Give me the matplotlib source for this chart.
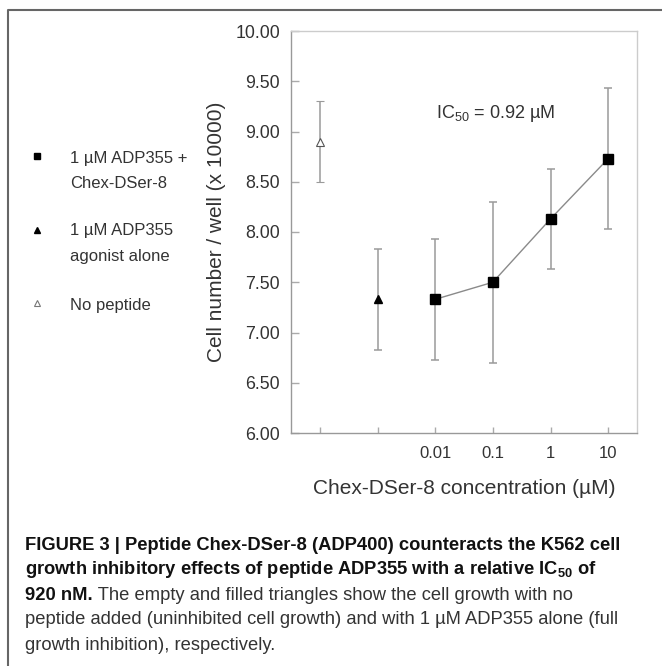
"""
Figure 3 recreation: Chex-DSer-8 counteracting ADP355 growth inhibition
"""

import matplotlib
matplotlib.use("Agg")
from matplotlib import pyplot as plt
from matplotlib.lines import Line2D

plt.rcParams["font.family"] = ["Liberation Sans", "DejaVu Sans"]
plt.rcParams["mathtext.fontset"] = "custom"
plt.rcParams["mathtext.rm"] = "Liberation Sans"
plt.rcParams["mathtext.bf"] = "Liberation Sans:bold"

# Data (cell number / well, x 10000)
conc_labels = ["", "", "0.01", "0.1", "1", "10"]
no_peptide_mean = 8.90
no_peptide_err = 0.40
agonist_mean = 7.33
agonist_err = 0.50
combo_means = [7.33, 7.50, 8.13, 8.73]
combo_errs = [0.60, 0.80, 0.50, 0.70]

W, H = 662, 666
TXT = "#333333"
GREY = "#9a9a9a"

fig = plt.figure(figsize=(W / 100, H / 100), dpi=100)

def fx(px):
    return px / W

def fy(py):
    return 1 - py / H

# panel border (cropped at the right and bottom)
fig.add_artist(Line2D([fx(8), fx(8), fx(700)], [fy(700), fy(10), fy(10)],
                      color="#666666", lw=1.5, transform=fig.transFigure))

ax = fig.add_axes([fx(291), fy(433), fx(637) - fx(291), fy(31) - fy(433)])

positions = list(range(len(conc_labels)))
combo_x = positions[2:]

ax.errorbar(positions[0], no_peptide_mean, yerr=no_peptide_err, fmt="^",
            ms=6, mfc="white", mec="#555555", mew=0.8,
            ecolor=GREY, elinewidth=1.1, capsize=3, capthick=1.1)
ax.errorbar(positions[1], agonist_mean, yerr=agonist_err, fmt="^",
            ms=6, mfc="black", mec="black",
            ecolor=GREY, elinewidth=1.1, capsize=3, capthick=1.1)
ax.errorbar(combo_x, combo_means, yerr=combo_errs, fmt="none",
            ecolor=GREY, elinewidth=1.1, capsize=3, capthick=1.1)
ax.plot(combo_x, combo_means, "-", color="#8a8a8a", lw=1.0, zorder=3)
ax.plot(combo_x, combo_means, "s", ms=7.5, color="black", zorder=4)

ax.set_xlim(-0.5, 5.5)
ax.set_ylim(6.0, 10.0)
ax.set_xticks(positions)
ax.set_xticklabels(conc_labels)
ax.set_yticks([6.0 + 0.5 * i for i in range(9)])
ax.set_yticklabels([f"{6.0 + 0.5 * i:.2f}" for i in range(9)])
ax.tick_params(axis="both", direction="in", colors="#aaaaaa", labelcolor=TXT,
               width=1)
ax.tick_params(axis="y", length=6, pad=8, labelsize=12.8)
ax.tick_params(axis="x", length=4, pad=9, labelsize=12)

for side in ["left", "bottom"]:
    ax.spines[side].set_color("#999999")
    ax.spines[side].set_linewidth(1.0)
for side in ["top", "right"]:
    ax.spines[side].set_color("#cccccc")
    ax.spines[side].set_linewidth(1.0)

ax.set_ylabel("Cell number / well (x 10000)", fontsize=15, color=TXT, va="center")
ax.yaxis.set_label_coords(-0.214, 0.5)
ax.set_xlabel("Chex-DSer-8 concentration (µM)", fontsize=15, color=TXT, va="center")
ax.xaxis.set_label_coords(0.5, -0.137)

ax.text(0.592, 0.795, r"IC$_{\mathrm{50}}$ = 0.92 µM", transform=ax.transAxes,
        fontsize=13, color=TXT, ha="center", va="center")

# legend drawn at the left of the panel
fig.add_artist(Line2D([fx(37)], [fy(156)], marker="s", ms=5, color="black",
                      ls="none", transform=fig.transFigure))
fig.add_artist(Line2D([fx(37)], [fy(230)], marker="^", ms=5, color="black",
                      ls="none", transform=fig.transFigure))
fig.add_artist(Line2D([fx(37)], [fy(303)], marker="^", ms=5, mfc="white",
                      mec="#777777", mew=0.8, ls="none", transform=fig.transFigure))
legend_lines = [("1 µM ADP355 +", 158), ("Chex-DSer-8", 183),
                ("1 µM ADP355", 231), ("agonist alone", 257), ("No peptide", 305)]
for txt, py in legend_lines:
    fig.text(fx(70), fy(py), txt, fontsize=12, color=TXT, ha="left", va="center")

# caption
cap_font = ["Liberation Sans", "DejaVu Sans"]
cap_size = 13.2
cap_x = fx(25)
fig.text(cap_x, fy(545), "FIGURE 3 | Peptide Chex-DSer-8 (ADP400) counteracts the K562 cell",
         family=cap_font, weight="bold", fontsize=cap_size, color="#111111", va="center")
fig.text(cap_x, fy(570), r"growth inhibitory effects of peptide ADP355 with a relative IC$_{\mathbf{50}}$ of",
         family=cap_font, weight="bold", fontsize=cap_size, color="#111111", va="center")
t_bold = fig.text(cap_x, fy(595), "920 nM.", family=cap_font, weight="bold",
                  fontsize=cap_size, color="#111111", va="center")
fig.canvas.draw()
bb = t_bold.get_window_extent().transformed(fig.transFigure.inverted())
fig.text(bb.x1, fy(595), " The empty and filled triangles show the cell growth with no",
         family=cap_font, fontsize=cap_size, color=TXT, va="center")
fig.text(cap_x, fy(620), "peptide added (uninhibited cell growth) and with 1 µM ADP355 alone (full",
         family=cap_font, fontsize=cap_size, color=TXT, va="center")
fig.text(cap_x, fy(645), "growth inhibition), respectively.",
         family=cap_font, fontsize=cap_size, color=TXT, va="center")

fig.savefig("out.png", dpi=100, facecolor="white")
